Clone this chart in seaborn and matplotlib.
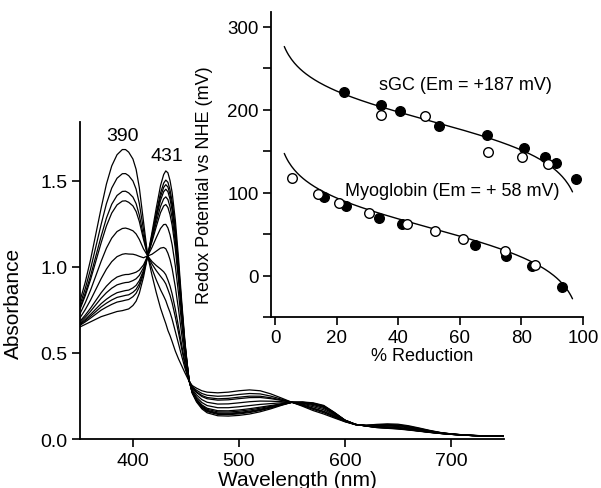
import numpy as np
import pandas as pd
import matplotlib
matplotlib.use("Agg")
import matplotlib.pyplot as plt
import seaborn as sns

# spectra: fully oxidised and fully reduced end spectra
wavelength = [350, 355, 360, 365, 370, 375, 380, 385, 390, 393, 396, 400, 403, 406, 410, 414,
              418, 422, 426, 429, 431, 433, 435, 437, 440, 443, 446, 449, 451, 453, 456, 460,
              465, 470, 480, 490, 500, 510, 520, 530, 540, 550, 560, 570, 580, 590, 600, 610,
              620, 630, 640, 650, 660, 670, 680, 690, 700, 710, 720, 735, 750]
abs_ox = [0.80, 0.91, 1.04, 1.19, 1.34, 1.48, 1.585, 1.65, 1.68, 1.68, 1.665, 1.625, 1.565, 1.46, 1.26, 1.06,
          0.95, 0.85, 0.76, 0.705, 0.67, 0.63, 0.60, 0.565, 0.51, 0.465, 0.425, 0.385, 0.36, 0.335, 0.31, 0.295,
          0.28, 0.272, 0.268, 0.272, 0.28, 0.285, 0.28, 0.262, 0.238, 0.213, 0.19, 0.165, 0.145, 0.122, 0.10, 0.083,
          0.08, 0.085, 0.088, 0.086, 0.077, 0.064, 0.05, 0.038, 0.03, 0.025, 0.021, 0.018, 0.016]
abs_red = [0.65, 0.665, 0.68, 0.695, 0.71, 0.72, 0.73, 0.74, 0.745, 0.75, 0.755, 0.775, 0.80, 0.845, 0.94, 1.065,
           1.20, 1.34, 1.47, 1.535, 1.556, 1.545, 1.50, 1.43, 1.27, 1.05, 0.80, 0.57, 0.45, 0.34, 0.265, 0.215,
           0.175, 0.152, 0.135, 0.133, 0.137, 0.145, 0.158, 0.175, 0.195, 0.213, 0.215, 0.21, 0.195, 0.155, 0.11, 0.085,
           0.075, 0.066, 0.062, 0.058, 0.052, 0.045, 0.038, 0.032, 0.027, 0.023, 0.02, 0.017, 0.015]
# fraction reduced for each recorded spectrum (from the 390 nm peak heights)
frac_reduced = [0.0, 0.15, 0.26, 0.32, 0.49, 0.65, 0.78, 0.83, 0.88, 0.91, 0.94, 1.0]

# redox titration points (% reduction, mV)
sgc_filled_x = [22.5, 34.4, 40.5, 53.3, 68.8, 80.8, 87.6, 91.1, 97.8]
sgc_filled_y = [222, 206, 199, 180, 169, 154, 143, 136, 117]
sgc_open_x = [34.4, 48.6, 69.1, 80.1, 88.8]
sgc_open_y = [194, 192, 149, 143, 135]
mb_filled_x = [16.0, 22.9, 33.8, 41.2, 64.9, 75.1, 83.6, 93.3]
mb_filled_y = [95, 84, 69, 62, 37, 24, 11, -14]
mb_open_x = [5.6, 14.1, 20.9, 30.6, 42.7, 52.1, 60.9, 74.6, 84.5]
mb_open_y = [118, 98, 88, 75.5, 62, 54, 44, 30, 13]

em_sgc = 187
em_mb = 58
nernst_slope = 25.7  # RT/F in mV, n = 1

sns.set_theme(style="ticks")
plt.rcParams['font.family'] = ['Liberation Sans', 'DejaVu Sans']
plt.rcParams['text.color'] = 'black'
plt.rcParams['axes.labelcolor'] = 'black'
plt.rcParams['xtick.color'] = 'black'
plt.rcParams['ytick.color'] = 'black'

fig = plt.figure(figsize=(6.01, 4.89), dpi=100)
ax = fig.add_axes([0.133, 0.1002, 0.7055, 0.6483])

wl = np.array(wavelength)
ox = np.array(abs_ox)
red = np.array(abs_red)
rows = []
for i, f in enumerate(frac_reduced):
    a = (1 - f) * ox + f * red
    rows.append(pd.DataFrame({'wl': wl, 'abs': a, 'curve': i}))
spec = pd.concat(rows)
sns.lineplot(data=spec, x='wl', y='abs', units='curve', estimator=None,
             color='black', lw=0.9, ax=ax, legend=False)

ax.set_xlim(350, 750)
ax.set_ylim(0, 1.84)
ax.set_xticks([400, 500, 600, 700])
ax.set_yticks([0.0, 0.5, 1.0, 1.5])
ax.set_yticklabels(['0.0', '0.5', '1.0', '1.5'])
ax.tick_params(labelsize=14, length=6, width=1.2, color='black', labelcolor='black', pad=3)
ax.set_xlabel('Wavelength (nm)', fontsize=15, color='black')
ax.set_ylabel('Absorbance', fontsize=15, color='black')
ax.xaxis.set_label_coords(0.514, -0.098)
ax.yaxis.set_label_coords(-0.135, 0.43)
for s in ['left', 'bottom']:
    ax.spines[s].set_linewidth(1.3)
    ax.spines[s].set_color('black')
sns.despine(ax=ax)
ax.text(390.4, 1.763, '390', fontsize=14, ha='center', va='center')
ax.text(432.3, 1.647, '431', fontsize=14, ha='center', va='center')

# inset: redox titration
ins = fig.add_axes([0.451, 0.3497, 0.519, 0.6237])
ins.patch.set_alpha(0)
xs = np.linspace(3, 96.6, 200)
sns.lineplot(x=xs, y=em_sgc + nernst_slope * np.log((100 - xs) / xs), color='black', lw=1.0, ax=ins)
sns.lineplot(x=xs, y=em_mb + nernst_slope * np.log((100 - xs) / xs), color='black', lw=1.0, ax=ins)
for px, py, fc in [(sgc_filled_x, sgc_filled_y, 'black'), (sgc_open_x, sgc_open_y, 'white'),
                   (mb_filled_x, mb_filled_y, 'black'), (mb_open_x, mb_open_y, 'white')]:
    sns.scatterplot(x=px, y=py, s=48, color=fc, edgecolor='black', linewidth=1.0, ax=ins, zorder=3)

ins.set_xlim(-1.3, 100)
ins.set_ylim(-50, 318)
ins.set_xticks([0, 20, 40, 60, 80, 100])
ins.set_yticks([0, 100, 200, 300])
ins.set_yticks([-50, 50, 150, 250], minor=True)
ins.tick_params(which='both', labelsize=13.5, length=6, width=1.2, color='black', labelcolor='black', pad=3)
ins.set_xlabel('% Reduction', fontsize=13, color='black')
ins.set_ylabel('Redox Potential vs NHE (mV)', fontsize=13, color='black')
ins.xaxis.set_label_coords(0.483, -0.099)
ins.yaxis.set_label_coords(-0.186, 0.436)
for s in ['left', 'bottom']:
    ins.spines[s].set_linewidth(1.3)
    ins.spines[s].set_color('black')
sns.despine(ax=ins)
ins.text(33.8, 230, 'sGC (Em = +187 mV)', fontsize=13, ha='left', va='center')
ins.text(22.7, 103, 'Myoglobin (Em = + 58 mV)', fontsize=13, ha='left', va='center')

fig.savefig('out.png', dpi=100)
